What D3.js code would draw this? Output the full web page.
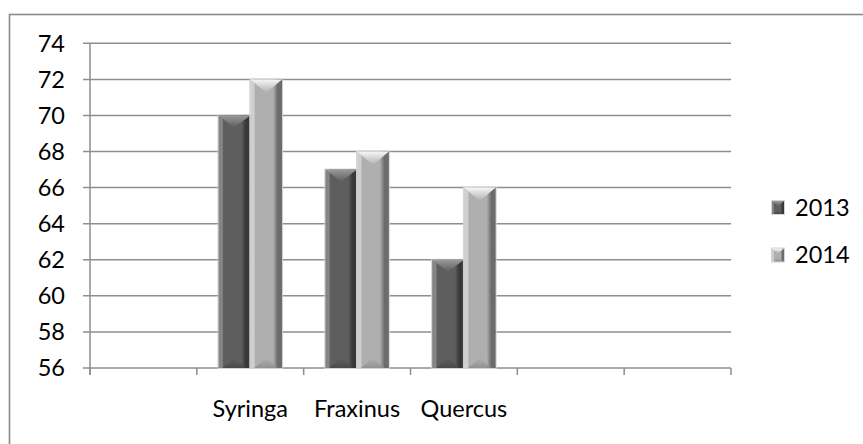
<!DOCTYPE html>
<html lang="en">
<head>
  <meta charset="UTF-8" />
  <title>Syringa / Fraxinus / Quercus 2013-2014</title>
  <script src="https://cdn.jsdelivr.net/npm/d3@7"></script>
  <style>
    body { margin: 0; background: #fff; }
    svg text { font-family: Lato, "Open Sans", sans-serif; fill: #000; }
  </style>
</head>
<body>
<svg id="chart" width="863" height="444"></svg>
<script>
// data
const categories = ["", "Syringa", "Fraxinus", "Quercus", "", ""];
const seriesNames = ["2013", "2014"];
const values2013 = [null, 70, 67, 62, null, null];
const values2014 = [null, 72, 68, 66, null, null];
const yTicks = [56, 58, 60, 62, 64, 66, 68, 70, 72, 74];

const svg = d3.select("#chart");
const plot = {left: 90, right: 731, top: 43.3, bottom: 368};
const fontSize = 23.5;

// outer frame (runs off the right and bottom edges)
svg.append("rect")
  .attr("x", 9.5).attr("y", 14.5)
  .attr("width", 900).attr("height", 480)
  .attr("fill", "none").attr("stroke", "#8a8a8a").attr("stroke-width", 1.6);

const x = d3.scaleBand().domain(d3.range(categories.length)).range([plot.left, plot.right]);
const xs = d3.scaleBand().domain(seriesNames).range([0, x.bandwidth()]).paddingOuter(0.68);
const y = d3.scaleLinear().domain([56, 74]).range([plot.bottom, plot.top]);

// gradients
const defs = svg.append("defs");
const looks = {
  "2013": {left: "#858585", body: "#5e5e5e", right: "#383838", top: "#9a9a9a", bot: "#454545"},
  "2014": {left: "#cfcfcf", body: "#afafaf", right: "#6c6c6c", top: "#f7f7f7", bot: "#8a8a8a"}
};
seriesNames.forEach(s => {
  const c = looks[s];
  const h = defs.append("linearGradient").attr("id", "h" + s).attr("x1", 0).attr("x2", 1).attr("y1", 0).attr("y2", 0);
  [[0, c.left], [0.12, c.left], [0.16, c.body], [0.72, c.body], [0.86, c.right], [1, c.right]]
    .forEach(([o, col]) => h.append("stop").attr("offset", o).attr("stop-color", col));
  const t = defs.append("linearGradient").attr("id", "t" + s).attr("x1", 0).attr("x2", 0).attr("y1", 0).attr("y2", 1);
  t.append("stop").attr("offset", 0).attr("stop-color", c.top);
  t.append("stop").attr("offset", 1).attr("stop-color", c.body);
  const b = defs.append("linearGradient").attr("id", "b" + s).attr("x1", 0).attr("x2", 0).attr("y1", 0).attr("y2", 1);
  b.append("stop").attr("offset", 0).attr("stop-color", c.body);
  b.append("stop").attr("offset", 1).attr("stop-color", c.bot);
});

// gridlines
svg.append("g").selectAll("line").data(yTicks).join("line")
  .attr("x1", plot.left - 7).attr("x2", plot.right)
  .attr("y1", d => y(d)).attr("y2", d => y(d))
  .attr("stroke", "#8e8e8e").attr("stroke-width", 1.5);

// y labels
svg.append("g").selectAll("text").data(yTicks).join("text")
  .attr("x", 65).attr("y", d => y(d)).attr("dy", "0.36em")
  .attr("text-anchor", "end").attr("font-size", fontSize)
  .text(d => d);

// axes lines
svg.append("line").attr("x1", plot.left).attr("x2", plot.left)
  .attr("y1", plot.top).attr("y2", plot.bottom + 7)
  .attr("stroke", "#8e8e8e").attr("stroke-width", 1.5);
const bounds = d3.range(categories.length + 1).map(i => i < categories.length ? x(i) : plot.right);
svg.append("g").selectAll("line").data(bounds).join("line")
  .attr("x1", d => d).attr("x2", d => d)
  .attr("y1", plot.bottom).attr("y2", plot.bottom + 7)
  .attr("stroke", "#8e8e8e").attr("stroke-width", 1.5);

// bars
function bevelBar(g, s, bx, by, bw, bh) {
  g.append("rect").attr("x", bx - 0.5).attr("y", by - 0.5).attr("width", bw + 1).attr("height", bh + 1)
    .attr("fill", "none").attr("stroke", "#d4d4d4").attr("stroke-width", 1);
  g.append("rect").attr("x", bx).attr("y", by).attr("width", bw).attr("height", bh)
    .attr("fill", `url(#h${s})`);
  const d = Math.min(bw * 0.42, s === "2014" ? 14 : 12, bh / 2);
  g.append("path")
    .attr("d", `M${bx},${by}L${bx + bw},${by}L${bx + bw / 2},${by + d}Z`)
    .attr("fill", `url(#t${s})`);
  const d2 = Math.min(bw * 0.32, 10, bh / 2);
  g.append("path")
    .attr("d", `M${bx + bw * 0.12},${by + bh}L${bx + bw * 0.86},${by + bh}L${bx + bw / 2},${by + bh - d2}Z`)
    .attr("fill", `url(#b${s})`).attr("opacity", 0.8);
}

const barData = [];
categories.forEach((c, i) => {
  [values2013, values2014].forEach((vals, k) => {
    if (vals[i] != null) barData.push({i, s: seriesNames[k], v: vals[i]});
  });
});
const bars = svg.append("g");
barData.forEach(d => {
  const bx = x(d.i) + xs(d.s);
  const by = y(d.v);
  bevelBar(bars.append("g"), d.s, bx, by, xs.bandwidth(), y(56) - by);
});

// category labels
svg.append("g").selectAll("text").data(categories.map((c, i) => ({c, i})).filter(d => d.c))
  .join("text")
  .attr("x", d => x(d.i) + x.bandwidth() / 2).attr("y", 417)
  .attr("text-anchor", "middle").attr("font-size", fontSize)
  .text(d => d.c);

// legend
const legend = svg.append("g");
seriesNames.forEach((s, k) => {
  const ly = 201 + k * 47.5;
  bevelBar(legend.append("g"), s, 772, ly, 12, 13);
  legend.append("text").attr("x", 795).attr("y", ly + 6.5).attr("dy", "0.36em")
    .attr("font-size", fontSize).text(s);
});
</script>
</body>
</html>
